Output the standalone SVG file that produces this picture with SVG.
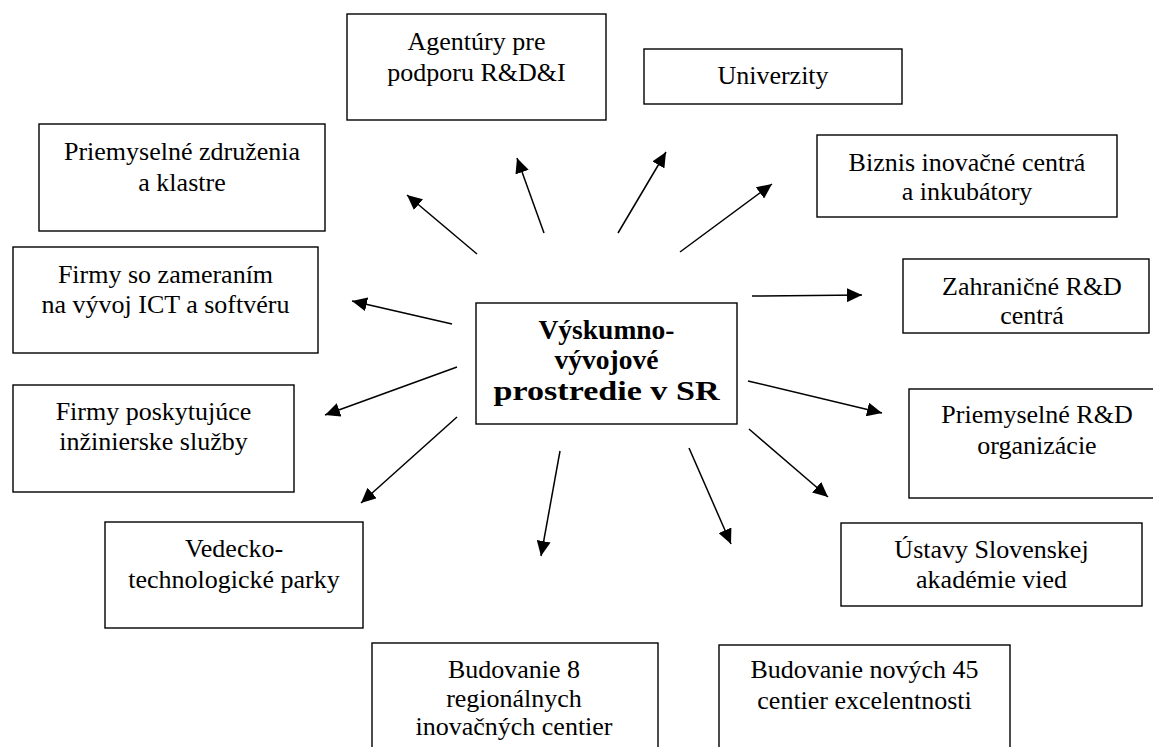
<svg xmlns="http://www.w3.org/2000/svg" width="1153" height="747" viewBox="0 0 1153 747">
<style>
.box{fill:#fff;stroke:#000;stroke-width:1.4}
.t{font-family:"Liberation Serif","Times New Roman",serif;font-size:26px;fill:#000;text-anchor:middle}
.b{font-weight:bold;font-size:27.5px}
.c{stroke:#000;stroke-width:1.5;fill:none;marker-end:url(#ah)}
</style>
<defs>
<marker id="ah" markerWidth="16" markerHeight="14" refX="15" refY="7" orient="auto" markerUnits="userSpaceOnUse">
<path d="M0,0 L15,7 L0,14 z" fill="#000"/>
</marker>
</defs>
<rect width="1153" height="747" fill="#fff"/>
<g id="connectors">
<line class="c" x1="477" y1="254" x2="407" y2="195"/>
<line class="c" x1="544" y1="233" x2="517" y2="158"/>
<line class="c" x1="618" y1="233" x2="666" y2="152"/>
<line class="c" x1="680" y1="252" x2="772" y2="184"/>
<line class="c" x1="752" y1="296" x2="862" y2="295"/>
<line class="c" x1="748" y1="381" x2="882" y2="413"/>
<line class="c" x1="749" y1="429" x2="828" y2="497"/>
<line class="c" x1="689" y1="448" x2="731" y2="544"/>
<line class="c" x1="560" y1="451" x2="541" y2="556"/>
<line class="c" x1="457" y1="417" x2="361" y2="503"/>
<line class="c" x1="457" y1="367" x2="325" y2="415"/>
<line class="c" x1="452" y1="324" x2="352" y2="301"/>
</g>
<g id="n_agentury">
<rect class="box" x="347" y="14" width="259" height="106"/>
<text class="t" x="476.5" y="50">Agentúry pre<tspan x="476.5" y="81">podporu R&amp;D&amp;I</tspan></text>
</g>
<g id="n_univerzity">
<rect class="box" x="644" y="49" width="258" height="55"/>
<text class="t" x="773" y="84">Univerzity</text>
</g>
<g id="n_priem_zdruzenia">
<rect class="box" x="39" y="124" width="286" height="107"/>
<text class="t" x="182" y="160">Priemyselné združenia<tspan x="182" y="191">a klastre</tspan></text>
</g>
<g id="n_biznis">
<rect class="box" x="817" y="135" width="300" height="82"/>
<text class="t" x="967" y="171">Biznis inovačné centrá<tspan x="967" y="200">a inkubátory</tspan></text>
</g>
<g id="n_firmy_ict">
<rect class="box" x="13" y="247" width="305" height="106"/>
<text class="t" x="165.5" y="283">Firmy so zameraním<tspan x="165.5" y="313">na vývoj ICT a softvéru</tspan></text>
</g>
<g id="n_zahranicne">
<rect class="box" x="903" y="259" width="246" height="74"/>
<text class="t" x="1032" y="295">Zahraničné R&amp;D<tspan x="1032" y="324">centrá</tspan></text>
</g>
<g id="n_center">
<rect class="box" x="476" y="303" width="261" height="121"/>
<text class="t b" x="606.5" y="339">Výskumno-<tspan x="606.5" y="369">vývojové</tspan><tspan x="606.5" y="400" textLength="226" lengthAdjust="spacingAndGlyphs">prostredie v SR</tspan></text>
</g>
<g id="n_firmy_inz">
<rect class="box" x="13" y="385" width="281" height="107"/>
<text class="t" x="153.5" y="420">Firmy poskytujúce<tspan x="153.5" y="450">inžinierske služby</tspan></text>
</g>
<g id="n_priem_rd">
<rect class="box" x="909" y="389" width="260" height="109"/>
<text class="t" x="1037" y="423">Priemyselné R&amp;D<tspan x="1037" y="454">organizácie</tspan></text>
</g>
<g id="n_vedecko">
<rect class="box" x="105" y="522" width="258" height="106"/>
<text class="t" x="234" y="557">Vedecko-<tspan x="234" y="588">technologické parky</tspan></text>
</g>
<g id="n_ustavy">
<rect class="box" x="841" y="523" width="301" height="83"/>
<text class="t" x="991.5" y="558">Ústavy Slovenskej<tspan x="991.5" y="588">akadémie vied</tspan></text>
</g>
<g id="n_bud8">
<rect class="box" x="372" y="643" width="286" height="120"/>
<text class="t" x="514" y="678">Budovanie 8<tspan x="514" y="707">regionálnych</tspan><tspan x="514" y="735">inovačných centier</tspan></text>
</g>
<g id="n_bud45">
<rect class="box" x="719" y="645" width="291" height="120"/>
<text class="t" x="864.5" y="678">Budovanie nových 45<tspan x="864.5" y="709">centier excelentnosti</tspan></text>
</g>
</svg>
